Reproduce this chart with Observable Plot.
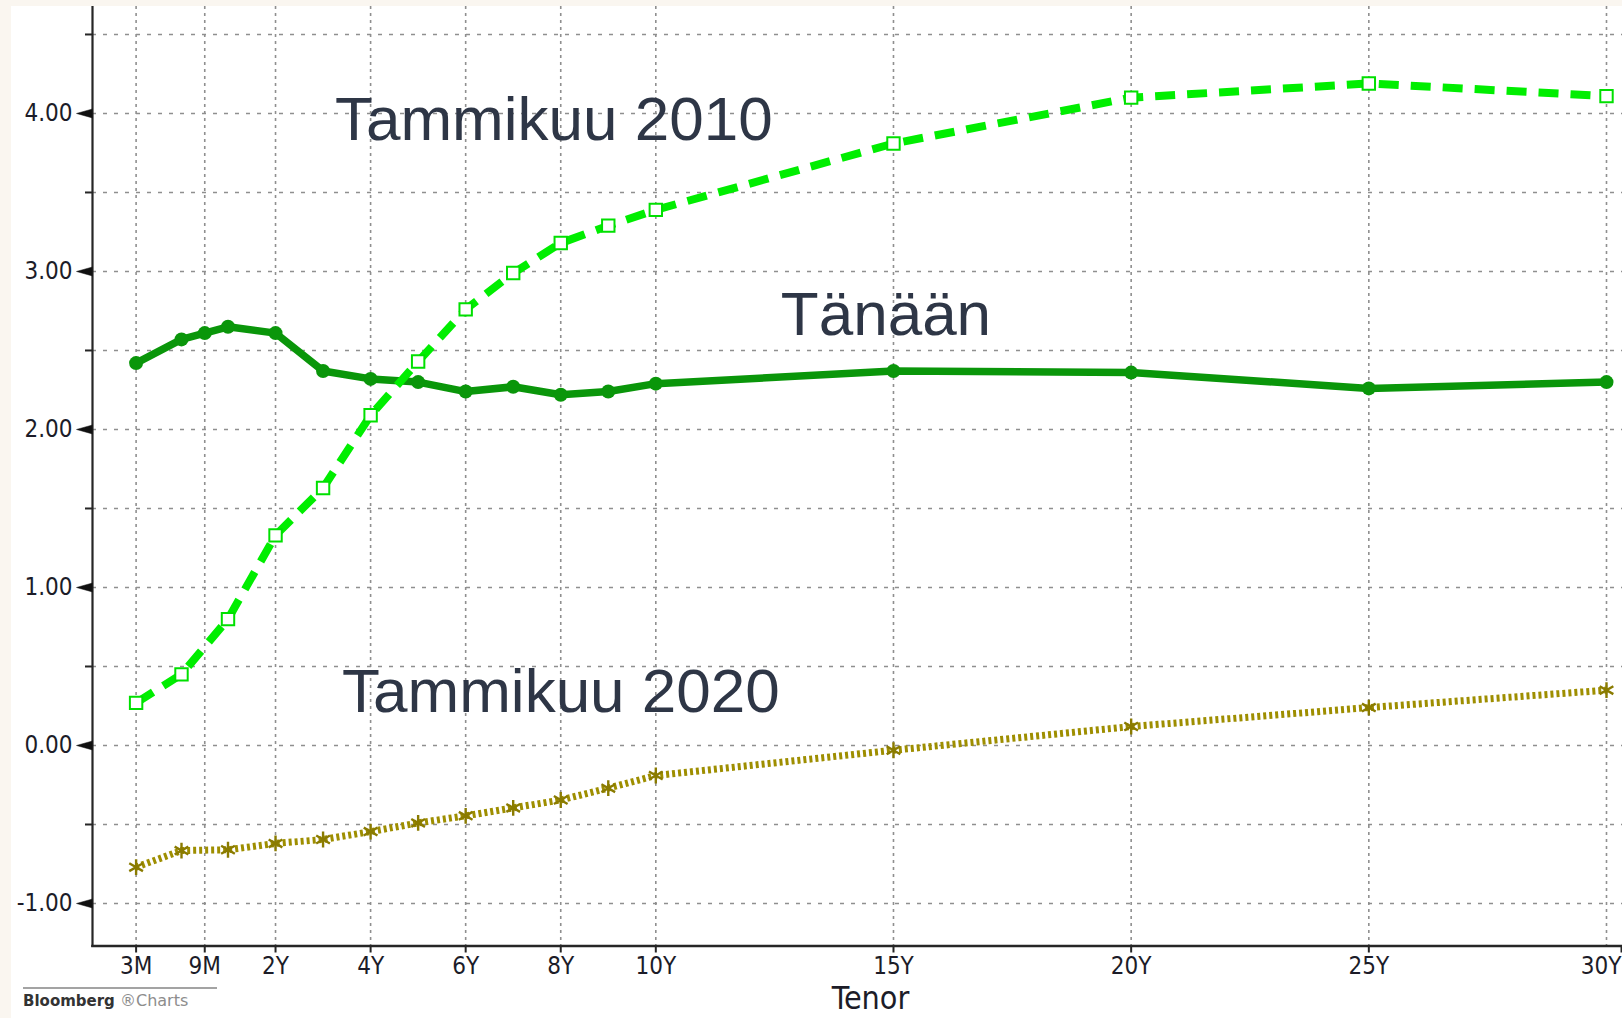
<!DOCTYPE html>
<html>
<head>
<meta charset="utf-8">
<script src="https://cdn.jsdelivr.net/npm/d3@7"></script>
<script src="https://cdn.jsdelivr.net/npm/@observablehq/plot@0.6"></script>
<style>
  html, body { margin: 0; padding: 0; background: #faf6f0; }
  #wrap { position: absolute; left: 11px; top: 6px; width: 1611px; height: 1012px; background: #ffffff; overflow: hidden; }
  #chart svg { display: block; }
  #caption { position: absolute; left: 12px; top: 981px; width: 194px; border-top: 2px solid #a3a3a3;
             padding-top: 3px; font-family: "DejaVu Sans", sans-serif; font-size: 16px; line-height: 18px; white-space: nowrap; }
  #caption .b { color: #333333; font-weight: bold; font-size: 15px; }
  #caption .c { color: #8d8d8d; }
</style>
</head>
<body>
<div id="wrap">
  <div id="chart"></div>
  <div id="caption"><span class="b">Bloomberg</span> <span class="c">®Charts</span></div>
</div>
<script>
// ---- data (tenor in years) ----
const tenorsToday = [0.25, 0.5, 0.75, 1, 2, 3, 4, 5, 6, 7, 8, 9, 10, 15, 20, 25, 30];
const valuesToday = [2.42, 2.57, 2.61, 2.65, 2.61, 2.37, 2.32, 2.30, 2.24, 2.27, 2.22, 2.24, 2.29, 2.37, 2.36, 2.26, 2.30];

const tenors2010 = [0.25, 0.5, 1, 2, 3, 4, 5, 6, 7, 8, 9, 10, 15, 20, 25, 30];
const values2010 = [0.27, 0.45, 0.80, 1.33, 1.63, 2.09, 2.43, 2.76, 2.99, 3.18, 3.29, 3.39, 3.81, 4.10, 4.19, 4.11];

const tenors2020 = [0.25, 0.5, 1, 2, 3, 4, 5, 6, 7, 8, 9, 10, 15, 20, 25, 30];
const values2020 = [-0.77, -0.665, -0.66, -0.62, -0.595, -0.545, -0.49, -0.445, -0.395, -0.345, -0.27, -0.19, -0.03, 0.12, 0.24, 0.35];

const xTickValues = [0.25, 0.75, 2, 4, 6, 8, 10, 15, 20, 25, 30];
const xTickLabels = ["3M", "9M", "2Y", "4Y", "6Y", "8Y", "10Y", "15Y", "20Y", "25Y", "30Y"];
const yMajorTicks = [-1, 0, 1, 2, 3, 4];
const yMinorTicks = [-0.5, 0.5, 1.5, 2.5, 3.5, 4.5];
const yGridValues = [-1, -0.5, 0, 0.5, 1, 1.5, 2, 2.5, 3, 3.5, 4, 4.5];

const annotationTexts = ["Tammikuu 2010", "Tänään", "Tammikuu 2020"];
const annotationTenors = [3.25, 12.63, 3.40];
const annotationValues = [3.835, 2.60, 0.215];

// ---- build tables ----
const dToday = tenorsToday.map((t, i) => ({tenor: t, value: valuesToday[i]}));
const d2010 = tenors2010.map((t, i) => ({tenor: t, value: values2010[i]}));
const d2020 = tenors2020.map((t, i) => ({tenor: t, value: values2020[i]}));
const annotations = annotationTexts.map((s, i) => ({text: s, tenor: annotationTenors[i], value: annotationValues[i]}));
const xLabelMap = new Map(xTickValues.map((v, i) => [v, xTickLabels[i]]));
const lastTick = xTickValues[xTickValues.length - 1];
const innerTicks = xTickValues.slice(0, -1);

const condensed = "'DejaVu Sans Condensed', 'Liberation Sans Narrow', 'DejaVu Sans', sans-serif";
const gridColor = "#8f8f8f";
const axisColor = "#262626";
const labelColor = "#1c1c28";

const chart = Plot.plot({
  width: 1611,
  height: 1012,
  marginLeft: 81,
  marginRight: 0,
  marginTop: 0,
  marginBottom: 72.5,
  style: {background: "#ffffff", fontFamily: condensed, fontStretch: "condensed"},
  x: {type: "linear", domain: [0.25, 0.5, 1, 30], range: [124.6, 170, 216.5, 1595]},
  y: {domain: [-1.269, 4.677]},
  marks: [
    Plot.gridY(yGridValues, {stroke: gridColor, strokeOpacity: 1, strokeWidth: 1.6, strokeDasharray: "4,7"}),
    Plot.gridX(xTickValues, {stroke: gridColor, strokeOpacity: 1, strokeWidth: 1.6, strokeDasharray: "3,4"}),
    Plot.frame({anchor: "left", stroke: axisColor, strokeWidth: 2.2}),
    Plot.frame({anchor: "bottom", stroke: axisColor, strokeWidth: 2.6}),
    Plot.axisY(yMinorTicks, {tickSize: 7, tickFormat: () => "", stroke: axisColor, strokeWidth: 2, label: null}),
    Plot.vector(yMajorTicks, {y: d => d, frameAnchor: "left", shape: "spike", anchor: "start",
      length: 16, r: 4.5, rotate: -90, fill: "#111", stroke: "#111", strokeWidth: 0.5}),
    Plot.axisY(yMajorTicks, {tickSize: 0, tickPadding: 20, tickFormat: d => d.toFixed(2),
      fontSize: 24, fill: labelColor, label: null}),
    Plot.axisX(innerTicks, {tickSize: 7, tickPadding: 4, tickFormat: d => xLabelMap.get(d),
      stroke: axisColor, strokeWidth: 2, fontSize: 24, fill: labelColor, label: null}),
    Plot.axisX([lastTick], {tickSize: 7, tickPadding: 4, tickFormat: d => xLabelMap.get(d),
      stroke: axisColor, strokeWidth: 2, fontSize: 24, fill: labelColor, label: null,
      textAnchor: "end", dx: 15}),
    Plot.text(["Tenor"], {text: d => d, frameAnchor: "bottom", lineAnchor: "bottom", dx: 13, dy: 63,
      fontSize: 32, fill: labelColor}),

    // Tänään
    Plot.line(dToday, {x: "tenor", y: "value", stroke: "#0a960a", strokeWidth: 7.5,
      strokeLinejoin: "round", strokeLinecap: "round"}),
    Plot.dot(dToday, {x: "tenor", y: "value", r: 7, fill: "#0a960a", stroke: "none"}),

    // Tammikuu 2010
    Plot.line(d2010, {x: "tenor", y: "value", stroke: "#00ee00", strokeWidth: 8, strokeDasharray: "20,12",
      strokeLinecap: "butt", strokeLinejoin: "miter"}),
    Plot.dot(d2010, {x: "tenor", y: "value", symbol: "square", r: 7, fill: "#ffffff", stroke: "#00e000", strokeWidth: 2}),

    // Tammikuu 2020
    Plot.line(d2020, {x: "tenor", y: "value", stroke: "#9e8e00", strokeWidth: 7, strokeDasharray: "3,3",
      strokeLinecap: "butt", strokeLinejoin: "miter"}),
    Plot.dot(d2020, {x: "tenor", y: "value", symbol: "asterisk", r: 7.5, stroke: "#8a7b00", strokeWidth: 2.4}),

    // annotations
    Plot.text(annotations, {x: "tenor", y: "value", text: "text", textAnchor: "start", lineAnchor: "bottom",
      fontSize: 62, fill: "#2e3646", fontFamily: "'Liberation Sans', Arial, sans-serif", fontStretch: "normal"})
  ]
});
document.getElementById("chart").appendChild(chart);
</script>
</body>
</html>
